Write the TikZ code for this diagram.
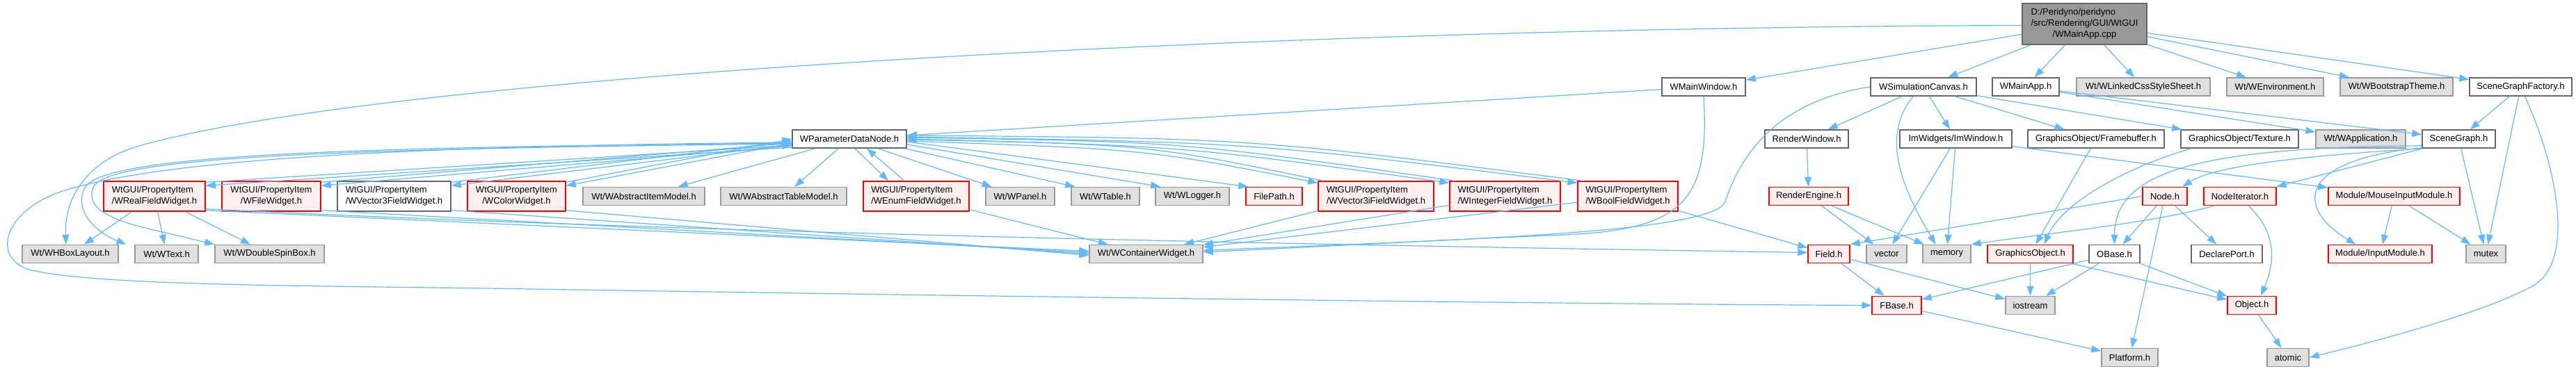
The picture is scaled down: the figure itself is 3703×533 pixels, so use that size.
\documentclass[tikz,border=0pt]{standalone}
\usepackage{fontspec}
\setmainfont{Liberation Sans}
\usetikzlibrary{arrows.meta}
\definecolor{edgec}{HTML}{63B8FF}
\definecolor{redfill}{HTML}{FFF0F0}
\definecolor{greyfill}{HTML}{E0E0E0}
\definecolor{greyline}{HTML}{999999}
\definecolor{darkline}{HTML}{666666}
\definecolor{rootfill}{HTML}{999999}
\tikzset{
  box/.style={draw, line width=1.5pt, inner sep=0pt, font=\fontsize{13}{16}\selectfont, minimum height=26pt, text=black},
  wbox/.style={box, draw=darkline, fill=white},
  gbox/.style={box, draw=greyline, fill=greyfill},
  rbox/.style={box, draw=red, fill=redfill},
  rtbox/.style={box, draw=darkline, fill=rootfill},
  two/.style={minimum height=43pt},
  dep/.style={draw=edgec, line width=1.2pt, -{Triangle[length=14pt,width=10pt]}},
}
\begin{document}
\begin{tikzpicture}[x=1pt,y=-1pt]
\useasboundingbox (0,0) rectangle (3703,533);
% root
\node[rtbox, minimum width=179pt, minimum height=59pt] (root) at (2996.5,34.5)
  {\begin{tabular}{@{}l@{}}D:/Peridyno/peridyno\\/src/Rendering/GUI/WtGUI\\\multicolumn{1}{@{}c@{}}{/WMainApp.cpp}\end{tabular}};
% row 1
\node[wbox, minimum width=120pt] (mw) at (2449,125) {WMainWindow.h};
\node[wbox, minimum width=152pt] (wsc) at (2765,125) {WSimulationCanvas.h};
\node[wbox, minimum width=96pt] (mapp) at (2912,125) {WMainApp.h};
\node[gbox, minimum width=192pt] (css) at (3081,125) {Wt/WLinkedCssStyleSheet.h};
\node[gbox, minimum width=139pt] (env) at (3270.5,125) {Wt/WEnvironment.h};
\node[gbox, minimum width=162pt] (boot) at (3445,125) {Wt/WBootstrapTheme.h};
\node[wbox, minimum width=147pt] (sgf) at (3623.5,125) {SceneGraphFactory.h};
% row 2
\node[wbox, minimum width=164pt] (pdn) at (1221,200) {WParameterDataNode.h};
\node[wbox, minimum width=120pt] (rw) at (2597,200) {RenderWindow.h};
\node[wbox, minimum width=161pt] (imw) at (2811.5,200) {ImWidgets/ImWindow.h};
\node[wbox, minimum width=196pt] (fb) at (3013,200) {GraphicsObject/Framebuffer.h};
\node[wbox, minimum width=169pt] (tex) at (3219.5,200) {GraphicsObject/Texture.h};
\node[gbox, minimum width=129pt] (app) at (3393.5,200) {Wt/WApplication.h};
\node[wbox, minimum width=105pt] (sg) at (3534.5,200) {SceneGraph.h};
% row 3
\node[rbox, two, minimum width=146pt, align=left] (real) at (222,282.5) {WtGUI/PropertyItem\\/WRealFieldWidget.h};
\node[rbox, two, minimum width=142pt, align=center] (file) at (390,282.5) {WtGUI/PropertyItem\\/WFileWidget.h};
\node[wbox, two, minimum width=163pt, align=left] (vec3) at (566.5,282.5) {WtGUI/PropertyItem\\/WVector3FieldWidget.h};
\node[rbox, two, minimum width=141pt, align=center] (color) at (742.5,282.5) {WtGUI/PropertyItem\\/WColorWidget.h};
\node[gbox, minimum width=175pt] (aim) at (925.5,282.5) {Wt/WAbstractItemModel.h};
\node[gbox, minimum width=181pt] (atm) at (1126.5,282.5) {Wt/WAbstractTableModel.h};
\node[rbox, two, minimum width=152pt, align=left] (enumw) at (1317,282.5) {WtGUI/PropertyItem\\/WEnumFieldWidget.h};
\node[gbox, minimum width=99pt] (panel) at (1466.5,282.5) {Wt/WPanel.h};
\node[gbox, minimum width=98pt] (tablew) at (1589,282.5) {Wt/WTable.h};
\node[gbox, minimum width=106pt] (logger) at (1714,282.5) {Wt/WLogger.h};
\node[rbox, minimum width=81pt] (fpath) at (1831.5,282.5) {FilePath.h};
\node[rbox, two, minimum width=166pt, align=left] (vec3i) at (1978,282.5) {WtGUI/PropertyItem\\/WVector3iFieldWidget.h};
\node[rbox, two, minimum width=159pt, align=left] (intw) at (2163.5,282.5) {WtGUI/PropertyItem\\/WIntegerFieldWidget.h};
\node[rbox, two, minimum width=144pt, align=left] (boolw) at (2340,282.5) {WtGUI/PropertyItem\\/WBoolFieldWidget.h};
\node[rbox, minimum width=114pt] (rengine) at (2600,282.5) {RenderEngine.h};
\node[rbox, minimum width=64pt] (nd) at (3112,282.5) {Node.h};
\node[rbox, minimum width=104pt] (nit) at (3220,282.5) {NodeIterator.h};
\node[rbox, minimum width=189pt] (mim) at (3441.5,282.5) {Module/MouseInputModule.h};
% row 4
\node[gbox, minimum width=138pt] (hbox) at (101,365.5) {Wt/WHBoxLayout.h};
\node[gbox, minimum width=91pt] (textw) at (239.5,365.5) {Wt/WText.h};
\node[gbox, minimum width=157pt] (dsb) at (387.5,365.5) {Wt/WDoubleSpinBox.h};
\node[gbox, minimum width=163pt] (cw) at (1647.5,365.5) {Wt/WContainerWidget.h};
\node[rbox, minimum width=60pt] (fieldh) at (2629,365.5) {Field.h};
\node[gbox, minimum width=58pt] (vec) at (2712,365.5) {vector};
\node[gbox, minimum width=69pt] (mem) at (2798.5,365.5) {memory};
\node[rbox, minimum width=123pt] (gobj) at (2918.5,365.5) {GraphicsObject.h};
\node[wbox, minimum width=73pt] (obase) at (3039.5,365.5) {OBase.h};
\node[wbox, minimum width=102pt] (dport) at (3201,365.5) {DeclarePort.h};
\node[rbox, minimum width=149pt] (im) at (3421.5,365.5) {Module/InputModule.h};
\node[gbox, minimum width=57pt] (mutex) at (3573.5,365.5) {mutex};
% row 5
\node[rbox, minimum width=71pt] (fbase) at (2726.5,439.5) {FBase.h};
\node[gbox, minimum width=71pt] (iostream) at (2918.5,439.5) {iostream};
\node[rbox, minimum width=70pt] (object) at (3237,439.5) {Object.h};
% row 6
\node[gbox, minimum width=81pt] (platform) at (3061.5,514.5) {Platform.h};
\node[gbox, minimum width=60pt] (atomic) at (3289,514.5) {atomic};

% ---- edges: root
\draw[dep] (root) -- (mw);
\draw[dep] (root) -- (wsc);
\draw[dep] (root) -- (mapp);
\draw[dep] (root) -- (css);
\draw[dep] (root) -- (env);
\draw[dep] (root) -- (boot);
\draw[dep] (root) -- (sgf);
\draw[dep] ([yshift=-2pt]root.west) .. controls (1800,40) and (550,110) .. (200,210) .. controls (130,230) and (92,280) .. ([xshift=-6pt]hbox.north);
% mw
\draw[dep] (mw) -- (pdn);
\draw[dep] (mw.south) .. controls (2458,290) and (2420,330) .. (2250,338) .. controls (2050,346) and (1850,358) .. ([yshift=3pt]cw.east);
% wsc
\draw[dep] (wsc.west) .. controls (2560,145) and (2505,215) .. (2480,290) .. controls (2465,335) and (2100,345) .. ([yshift=5pt]cw.east);
\draw[dep] (wsc) -- (rw);
\draw[dep] (wsc) -- (imw);
\draw[dep] ([xshift=-15pt]wsc.south) .. controls (2700,200) and (2740,280) .. ([xshift=-16pt]mem.north);
\draw[dep] (wsc) -- (fb);
\draw[dep] (wsc) -- (tex);
% mapp
\draw[dep] (mapp) -- (app);
\draw[dep] (mapp) -- (sg);
% sgf
\draw[dep] (sgf) -- (sg);
\draw[dep] (sgf) -- (mutex);
\draw[dep] ([xshift=6pt]sgf.south) .. controls (3680,250) and (3700,380) .. (3640,412) .. controls (3570,450) and (3420,490) .. (atomic.east);
% pdn <-> left widgets
\draw[dep] ([yshift=-12pt]pdn.west) -- ([yshift=-7pt]real.north east);
\draw[dep] ([yshift=-2pt]real.north east) -- ([yshift=-9pt]pdn.west);
\draw[dep] ([yshift=-10pt]pdn.west) -- ([yshift=-7pt]file.north east);
\draw[dep] ([yshift=-2pt]file.north east) -- ([yshift=-6pt]pdn.west);
\draw[dep] ([yshift=-8pt]pdn.west) -- ([yshift=-7pt]vec3.north east);
\draw[dep] ([yshift=-2pt]vec3.north east) -- ([yshift=-3pt]pdn.west);
\draw[dep] ([yshift=-6pt]pdn.west) -- ([yshift=-7pt]color.north east);
\draw[dep] ([yshift=-2pt]color.north east) -- ([yshift=0pt]pdn.west);
% pdn loops to the left
\draw[dep] ([yshift=-6pt]pdn.west) .. controls (500,212) and (150,222) .. (122,270) .. controls (105,305) and (140,335) .. ([xshift=-58pt]textw.north);
\draw[dep] ([yshift=-7pt]pdn.west) .. controls (500,214) and (160,225) .. (135,268) .. controls (120,300) and (160,318) .. (230,333) -- (dsb.north west);
\draw[dep] ([yshift=-5pt]pdn.west) .. controls (600,210) and (250,228) .. (100,272) .. controls (0,300) and (-15,378) .. (50,390) .. controls (150,410) and (400,411) .. (700,415) .. controls (1500,428) and (2300,438) .. (fbase.west);
% pdn downwards
\draw[dep] (pdn) -- (aim);
\draw[dep] (pdn) -- (atm);
\draw[dep] ([xshift=8pt]pdn.south) -- ([xshift=-40pt]enumw.north);
\draw[dep] ([xshift=-17pt]enumw.north) -- ([xshift=25pt]pdn.south);
\draw[dep] (pdn) -- (panel);
\draw[dep] ([xshift=-3pt]pdn.south east) -- ([xshift=6pt]tablew.north west);
\draw[dep] ([yshift=-8pt]pdn.east) -- ([xshift=8pt]logger.north west);
\draw[dep] ([yshift=-4pt]pdn.east) -- ([xshift=4pt]fpath.north west);
% pdn <-> right widgets
\draw[dep] ([yshift=-3pt]pdn.east) .. controls (1650,215) .. ([yshift=-3pt]vec3i.north west);
\draw[dep] ([xshift=8pt]vec3i.north west) .. controls (1650,208) .. ([yshift=-1pt]pdn.east);
\draw[dep] ([yshift=0pt]pdn.east) .. controls (1700,210) .. ([yshift=-3pt]intw.north west);
\draw[dep] ([xshift=8pt]intw.north west) .. controls (1700,204) .. ([yshift=2pt]pdn.east);
\draw[dep] ([yshift=3pt]pdn.east) .. controls (1800,205) .. ([yshift=-3pt]boolw.north west);
\draw[dep] ([xshift=8pt]boolw.north west) .. controls (1800,199) .. ([yshift=5pt]pdn.east);
% row3 -> row4 (left)
\draw[dep] (real) -- (hbox);
\draw[dep] (real) -- (textw);
\draw[dep] (real) -- (dsb);
\draw[dep] ([yshift=2pt]real.south east) -- ([yshift=4pt]cw.west);
\draw[dep] ([yshift=4pt]real.south east) .. controls (900,330) and (1600,348) .. ([yshift=2pt]fieldh.west);
\draw[dep] ([yshift=2pt]file.south east) -- ([yshift=2pt]cw.west);
\draw[dep] ([yshift=2pt]vec3.south east) -- ([yshift=0pt]cw.west);
\draw[dep] ([yshift=2pt]color.south east) -- ([yshift=-2pt]cw.west);
\draw[dep] (enumw) -- (cw);
\draw[dep] (vec3i) -- (cw);
\draw[dep] (intw) -- (cw);
\draw[dep] (boolw) -- (cw);
\draw[dep] (boolw) -- (fieldh);
% render / imgui
\draw[dep] (rw) -- (rengine);
\draw[dep] (rengine) -- (vec);
\draw[dep] (rengine) -- (mem);
\draw[dep] (imw) -- (vec);
\draw[dep] (imw) -- (mem);
\draw[dep] (imw) -- (mim);
\draw[dep] (fb) -- (gobj);
\draw[dep] ([xshift=-70pt]tex.south) .. controls (3060,240) and (2965,290) .. ([xshift=20pt]gobj.north);
% scene graph
\draw[dep] (sg.south west) .. controls (3350,222) and (3190,235) .. ([xshift=25pt]nd.north);
\draw[dep] (sg) -- (nit);
\draw[dep] ([yshift=4pt]sg.south west) .. controls (3150,212) and (3040,250) .. (obase.north);
\draw[dep] ([yshift=1pt]sg.south west) .. controls (3300,230) and (3300,300) .. ([xshift=-35pt]im.north);
\draw[dep] (sg) -- (mutex);
\draw[dep] (mim) -- (im);
\draw[dep] (mim) -- (mutex);
\draw[dep] (nd) -- (obase);
\draw[dep] (nd) -- (platform);
\draw[dep] (nd) -- (dport);
\draw[dep] (nd.west) -- (fieldh.north east);
\draw[dep] ([xshift=-38pt]nit.south) .. controls (3100,320) and (2950,335) .. (mem.north east);
\draw[dep] ([xshift=12pt]nit.south) .. controls (3280,340) and (3265,390) .. ([xshift=13pt]object.north);
% lower
\draw[dep] (gobj) -- (iostream);
\draw[dep] (gobj) -- (object);
\draw[dep] (obase) -- (iostream);
\draw[dep] (obase) -- (object);
\draw[dep] (obase) -- (fbase);
\draw[dep] (fieldh) -- (fbase);
\draw[dep] (fieldh) -- (iostream);
\draw[dep] (fbase) -- (platform);
\draw[dep] (object) -- (atomic);
\end{tikzpicture}
\end{document}
